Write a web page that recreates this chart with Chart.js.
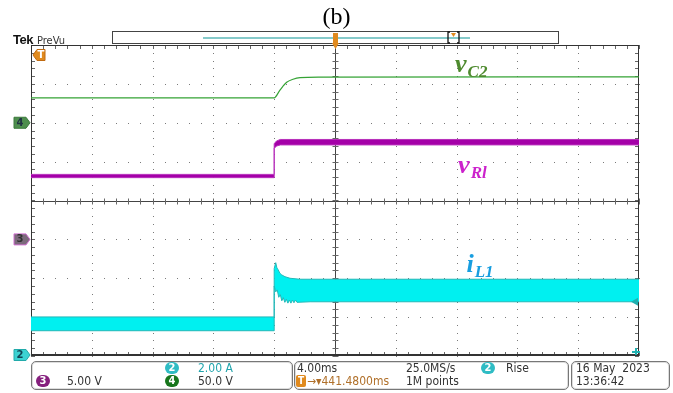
<!DOCTYPE html>
<html>
<head>
<meta charset="utf-8">
<script src="https://cdn.jsdelivr.net/npm/chart.js@4.4.1/dist/chart.umd.min.js"></script>
<style>
  html, body { margin: 0; padding: 0; background: #fff; }
  #scope { position: relative; width: 673px; height: 393px; overflow: hidden;
           font-family: "DejaVu Sans Condensed", "Liberation Sans Narrow", sans-serif; }
  #scope canvas { position: absolute; left: 0; top: 0; }
  .txt { position: absolute; white-space: nowrap; line-height: 1; font-size: 12px; color: #333; }
  .box { position: absolute; border: 1px solid #777; border-radius: 5px; box-shadow: inset 0 0 0 1px #ddd; }
  .chip { position: absolute; height: 12px; width: 14px; border-radius: 6px; color: #fff;
          font-size: 11px; line-height: 12px; text-align: center; font-weight: bold; }
  #title { position: absolute; left: 0; width: 673px; top: 3px; text-align: center;
           font-family: "Liberation Serif", "DejaVu Serif", serif; font-size: 24px; color: #000; }
  #tek { position: absolute; left: 13px; top: 32px; font-family: "Liberation Sans", sans-serif;
         font-weight: bold; font-size: 13px; letter-spacing: -0.5px; color: #111; }
  #prevu { position: absolute; left: 37px; top: 34px; font-family: "Liberation Sans Narrow", "DejaVu Sans Condensed", sans-serif;
           font-size: 11px; color: #333; }
</style>
</head>
<body>
<div id="scope">
  <canvas id="c" width="673" height="393"></canvas>
  <div id="title">(b)</div>
  <div id="tek">Tek</div>
  <div id="prevu">PreVu</div>

  <div class="box" style="left:31px;top:361px;width:260px;height:27px;"></div>
  <div class="box" style="left:294px;top:361px;width:273px;height:27px;"></div>
  <div class="box" style="left:571px;top:361px;width:97px;height:27px;"></div>

  <div class="chip" style="left:165px;top:362px;background:#2fbcc4;">2</div>
  <div class="txt" style="left:198px;top:362px;color:#20a4ac;">2.00 A</div>
  <div class="chip" style="left:36px;top:375px;background:#86207e;">3</div>
  <div class="txt" style="left:67px;top:375px;">5.00 V</div>
  <div class="chip" style="left:165px;top:375px;background:#17761c;">4</div>
  <div class="txt" style="left:198px;top:375px;">50.0 V</div>

  <div class="txt" style="left:297px;top:362px;">4.00ms</div>
  <div class="txt" style="left:406px;top:362px;">25.0MS/s</div>
  <div class="chip" style="left:481px;top:362px;background:#2fbcc4;">2</div>
  <div class="txt" style="left:506px;top:362px;">Rise</div>
  <div class="chip" style="left:296px;top:375px;width:10px;border-radius:2px;background:#e08a1e;font-size:10px;">T</div>
  <div class="txt" style="left:307px;top:375px;color:#b0702a;">→▾441.4800ms</div>
  <div class="txt" style="left:406px;top:375px;">1M points</div>

  <div class="txt" style="left:576px;top:362px;">16 May&nbsp;&nbsp;2023</div>
  <div class="txt" style="left:576px;top:375px;">13:36:42</div>
</div>

<script>
// Horizontal: 4 ms/div, 10 divisions centred on the trigger point
const timeWindow = [-20, 20];
// Vertical: 8 divisions, values below are converted to divisions per channel
const divRange = [-4, 4];

// CH4 – capacitor voltage v_C2, 50 V/div, ground marker at +2 div
const vc2Time  = [-20, -4.0, -3.62, -3.18, -2.76, -2.30, -1.0, 20];
const vc2Volts = [32.0, 32.0, 42.0, 52.0, 56.0, 58.0, 58.6, 59.0];

// CH3 – load voltage v_Rl, 5 V/div, ground marker at -1 div (ripple band edges)
const vrlTime  = [-20, -4.0, -4.0, -3.85, -3.6, 20];
const vrlUpper = [8.36, 8.36, 12.3, 12.65, 12.85, 12.85];
const vrlLower = [7.94, 7.94, 11.7, 12.0, 12.15, 12.15];

// CH2 – inductor current i_L1, 2 A/div, ground marker at -4 div (ripple band edges)
const ilUpperTime = [-20, -4.0, -4.0, -3.90, -3.82, -3.75, -3.62, -3.50, -3.29, -2.96, -2.30, 20];
const ilUpper     = [2.01, 2.01, 4.50, 4.80, 4.53, 4.45, 4.25, 4.17, 4.08, 4.00, 3.95, 3.95];
const ilLowerTime = [-20, -4.0, -4.0, -3.9, -3.8, -3.7, -3.6, -3.5, -3.4, -3.3, -3.2, -3.1,
                     -3.0, -2.9, -2.8, -2.7, -2.6, -2.5, -1.64, 20];
const ilLower     = [1.30, 1.30, 3.60, 3.30, 3.40, 3.02, 3.16, 2.84, 3.00, 2.76, 2.92, 2.72,
                     2.88, 2.72, 2.88, 2.74, 2.88, 2.76, 2.79, 2.79];

// channel settings: units per division and ground offset in divisions
const channels = {
  ch2: { perDiv: 2,  offset: -4, color: '#00f0f0', edge: '#22b8b8', marker: '#3cd2d2', label: '2' },
  ch3: { perDiv: 5,  offset: -1, color: '#a400a8', edge: '#b830bc', marker: '#7c6a7c', label: '3' },
  ch4: { perDiv: 50, offset: 2,  color: '#35a335', edge: '#35a335', marker: '#4e8e4e', label: '4' }
};

// trace names, anchored in time / division coordinates
const traceLabels = [
  { main: 'v', sub: 'C2', t: 7.9,  div: 3.30, color: '#4e8a2e' },
  { main: 'v', sub: 'Rl', t: 8.1,  div: 0.72, color: '#cc22cc' },
  { main: 'i', sub: 'L1', t: 8.65, div: -1.85, color: '#189ee0' }
];

function toDivs(times, values, ch) {
  return times.map((t, i) => ({ x: t, y: ch.offset + values[i] / ch.perDiv }));
}

// graticule: dotted divisions, centre cross and border with 1/5 div ticks
const graticule = {
  id: 'graticule',
  beforeDatasetsDraw(chart) {
    const { ctx, chartArea: a, scales: { x, y } } = chart;
    ctx.save();
    ctx.fillStyle = '#7a7a7a';
    for (let t = timeWindow[0] + 4; t < timeWindow[1]; t += 4) {
      if (t === 0) continue;
      const px = Math.round(x.getPixelForValue(t));
      for (let d = divRange[0]; d <= divRange[1] + 1e-6; d += 0.2) {
        ctx.fillRect(px, Math.round(y.getPixelForValue(d)), 1, 1);
      }
    }
    for (let d = divRange[0] + 1; d < divRange[1]; d += 1) {
      if (d === 0) continue;
      const py = Math.round(y.getPixelForValue(d));
      for (let t = timeWindow[0]; t <= timeWindow[1] + 1e-6; t += 0.8) {
        ctx.fillRect(Math.round(x.getPixelForValue(t)), py, 1, 1);
      }
    }
    // centre cross
    const cx = Math.round(x.getPixelForValue(0)) + 0.5;
    const cy = Math.round(y.getPixelForValue(0)) + 0.5;
    ctx.strokeStyle = '#444';
    ctx.lineWidth = 1;
    ctx.beginPath();
    ctx.moveTo(cx, a.top); ctx.lineTo(cx, a.bottom);
    ctx.moveTo(a.left, cy); ctx.lineTo(a.right, cy);
    ctx.stroke();
    ctx.strokeStyle = '#666';
    ctx.beginPath();
    for (let d = divRange[0]; d <= divRange[1] + 1e-6; d += 0.2) {
      const py = Math.round(y.getPixelForValue(d)) + 0.5;
      ctx.moveTo(cx - 3, py); ctx.lineTo(cx + 3, py);
      ctx.moveTo(a.left, py); ctx.lineTo(a.left + 4, py);
      ctx.moveTo(a.right, py); ctx.lineTo(a.right - 4, py);
    }
    for (let t = timeWindow[0]; t <= timeWindow[1] + 1e-6; t += 0.8) {
      const px = Math.round(x.getPixelForValue(t)) + 0.5;
      ctx.moveTo(px, cy - 3); ctx.lineTo(px, cy + 3);
      ctx.moveTo(px, a.top); ctx.lineTo(px, a.top + 4);
      ctx.moveTo(px, a.bottom); ctx.lineTo(px, a.bottom - 4);
    }
    ctx.stroke();
    // frame
    ctx.strokeStyle = '#333';
    ctx.strokeRect(a.left + 0.5, a.top + 0.5, a.right - a.left - 1, a.bottom - a.top - 1);
    ctx.lineWidth = 2;
    ctx.beginPath();
    ctx.moveTo(a.left, a.bottom - 1); ctx.lineTo(a.right, a.bottom - 1);
    ctx.stroke();
    ctx.restore();
  }
};

function arrowBadge(ctx, xr, yc, w, h, fill, stroke, text, textColor, pointLeft) {
  ctx.save();
  ctx.beginPath();
  if (!pointLeft) {
    ctx.moveTo(xr - w, yc - h / 2); ctx.lineTo(xr - 4, yc - h / 2); ctx.lineTo(xr, yc);
    ctx.lineTo(xr - 4, yc + h / 2); ctx.lineTo(xr - w, yc + h / 2);
  } else {
    ctx.moveTo(xr, yc); ctx.lineTo(xr + 4, yc - h / 2); ctx.lineTo(xr + w, yc - h / 2);
    ctx.lineTo(xr + w, yc + h / 2); ctx.lineTo(xr + 4, yc + h / 2);
  }
  ctx.closePath();
  ctx.fillStyle = fill; ctx.fill();
  ctx.strokeStyle = stroke; ctx.lineWidth = 1; ctx.stroke();
  ctx.fillStyle = textColor;
  ctx.font = 'bold 10px "DejaVu Sans", sans-serif';
  ctx.textAlign = 'center'; ctx.textBaseline = 'middle';
  ctx.fillText(text, pointLeft ? xr + w / 2 + 2 : xr - w / 2 - 2, yc + 0.5);
  ctx.restore();
}

// markers, trace names and the record-view strip
const overlay = {
  id: 'overlay',
  afterDatasetsDraw(chart) {
    const { ctx, chartArea: a, scales: { x, y } } = chart;
    // ground markers left of the graticule
    arrowBadge(ctx, a.left - 1, y.getPixelForValue(channels.ch4.offset), 16, 11, channels.ch4.marker, '#3b7a3b', '4', '#234', false);
    arrowBadge(ctx, a.left - 1, y.getPixelForValue(channels.ch3.offset), 16, 11, channels.ch3.marker, '#d070d0', '3', '#333', false);
    arrowBadge(ctx, a.left - 1, y.getPixelForValue(channels.ch2.offset) - 1, 16, 11, channels.ch2.marker, '#2aa', '2', '#145', false);
    // trigger position marker
    arrowBadge(ctx, a.left + 2, a.top + 10, 12, 11, '#e08a1e', '#c06a10', 'T', '#fff', true);
    // trigger level arrow at right edge
    ctx.save();
    ctx.fillStyle = '#20b0b0';
    const ly = y.getPixelForValue(channels.ch2.offset + 2.79 / channels.ch2.perDiv);
    ctx.beginPath();
    ctx.moveTo(a.right - 8, ly); ctx.lineTo(a.right - 1, ly - 4); ctx.lineTo(a.right - 1, ly + 4);
    ctx.closePath(); ctx.fill();
    ctx.fillRect(a.right - 4, a.bottom - 8, 2, 7);
    ctx.fillRect(a.right - 7, a.bottom - 5, 8, 2);
    ctx.restore();

    // trace names
    traceLabels.forEach(l => {
      const px = x.getPixelForValue(l.t), py = y.getPixelForValue(l.div);
      ctx.save();
      ctx.fillStyle = l.color;
      ctx.textBaseline = 'alphabetic';
      ctx.font = 'italic bold 26px "Liberation Serif", "DejaVu Serif", serif';
      ctx.fillText(l.main, px, py);
      const w = ctx.measureText(l.main).width;
      ctx.font = 'italic bold 17px "Liberation Serif", "DejaVu Serif", serif';
      ctx.fillText(l.sub, px + w + 1, py + 5);
      ctx.restore();
    });

    // record view strip above the graticule
    ctx.save();
    ctx.strokeStyle = '#444';
    ctx.lineWidth = 1;
    ctx.strokeRect(112.5, 31.5, 446, 12);
    ctx.strokeStyle = '#5cb8b8';
    ctx.lineWidth = 1.5;
    ctx.beginPath(); ctx.moveTo(203, 38); ctx.lineTo(470, 38); ctx.stroke();
    ctx.strokeStyle = '#111';
    ctx.lineWidth = 1.3;
    ctx.beginPath();
    ctx.moveTo(450, 32); ctx.lineTo(448, 32); ctx.lineTo(448, 43); ctx.lineTo(450, 43);
    ctx.moveTo(457, 32); ctx.lineTo(459, 32); ctx.lineTo(459, 43); ctx.lineTo(457, 43);
    ctx.stroke();
    ctx.fillStyle = '#e08a1e';
    ctx.beginPath(); ctx.moveTo(451, 33); ctx.lineTo(456, 33); ctx.lineTo(453.5, 37); ctx.closePath(); ctx.fill();
    const tx = Math.round(x.getPixelForValue(0));
    ctx.fillRect(tx - 2, 33, 5, 10);
    ctx.beginPath(); ctx.moveTo(tx - 3, 43); ctx.lineTo(tx + 4, 43); ctx.lineTo(tx + 0.5, 49); ctx.closePath(); ctx.fill();
    ctx.restore();
  }
};

const band = (data, ch, fill) => ({
  data, borderColor: ch.edge, borderWidth: 1, backgroundColor: ch.color,
  fill, pointRadius: 0, tension: 0
});

new Chart(document.getElementById('c'), {
  type: 'line',
  data: {
    datasets: [
      band(toDivs(ilLowerTime, ilLower, channels.ch2), channels.ch2, false),
      band(toDivs(ilUpperTime, ilUpper, channels.ch2), channels.ch2, '-1'),
      band(toDivs(vrlTime, vrlLower, channels.ch3), channels.ch3, false),
      band(toDivs(vrlTime, vrlUpper, channels.ch3), channels.ch3, '-1'),
      {
        data: toDivs(vc2Time, vc2Volts, channels.ch4),
        borderColor: channels.ch4.color, borderWidth: 1.2, fill: false,
        pointRadius: 0, cubicInterpolationMode: 'monotone'
      }
    ]
  },
  options: {
    responsive: false,
    animation: false,
    devicePixelRatio: 1,
    layout: { padding: { left: 31, right: 34, top: 45, bottom: 37 } },
    plugins: { legend: { display: false }, tooltip: { enabled: false } },
    scales: {
      x: { type: 'linear', min: timeWindow[0], max: timeWindow[1], display: false },
      y: { type: 'linear', min: divRange[0], max: divRange[1], display: false }
    }
  },
  plugins: [graticule, overlay]
});
</script>
</body>
</html>
